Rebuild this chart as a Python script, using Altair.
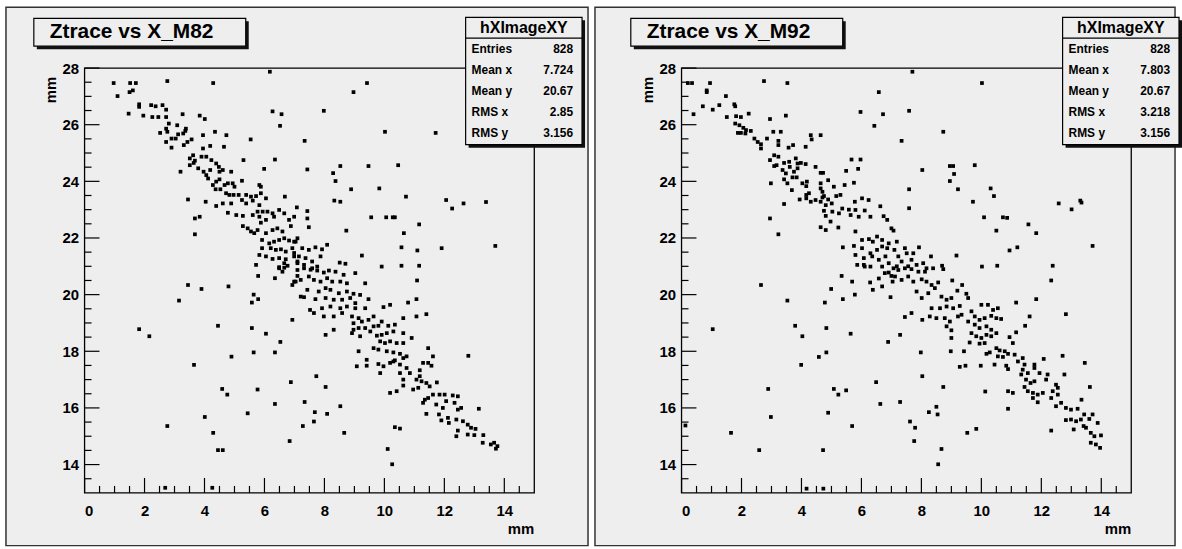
import altair as alt
import pandas as pd

# ---- Ztrace vs X, module M82 (mm) ----
m82_x = [6.18, 0.97, 1.52, 1.71, 2.76, 4.29, 1.50, 1.61, 1.10, 1.82, 1.82, 2.22, 2.37, 2.60, 2.72, 1.47, 1.96, 2.26,
         2.46, 2.72, 3.27, 3.84, 4.01, 6.27, 6.57, 6.52, 2.81, 3.09, 3.38, 2.72, 2.76, 2.52, 2.90, 3.04, 3.12, 3.29,
         3.36, 2.72, 2.90, 3.31, 3.43, 3.57, 3.95, 4.35, 4.73, 5.54, 4.19, 4.65, 3.95, 3.62, 3.51, 3.68, 3.90, 4.06,
         4.23, 4.39, 4.48, 3.51, 3.64, 3.20, 3.79, 3.97, 4.06, 4.19, 4.50, 4.61, 4.89, 5.30, 6.35, 5.99, 4.12, 4.28,
         4.39, 4.50, 4.67, 4.78, 4.94, 5.00, 5.25, 5.83, 5.88, 4.37, 4.53, 4.72, 4.83, 4.97, 5.14, 5.39, 5.55, 5.72,
         5.88, 6.05, 6.68, 3.45, 4.04, 4.39, 4.61, 4.89, 5.25, 5.39, 5.61, 5.83, 4.78, 5.06, 5.28, 5.61, 5.77, 5.94,
         6.10, 6.27, 6.49, 6.66, 6.99, 3.84, 3.68, 3.68, 5.83, 6.32, 6.05, 5.88, 6.82, 5.28, 5.44, 5.55, 5.66, 5.77,
         6.05, 6.27, 6.43, 6.60, 6.88, 5.92, 6.16, 6.32, 6.49, 6.66, 6.82, 6.99, 7.10, 6.21, 6.38, 6.55, 6.71, 6.93,
         5.92, 5.83, 6.05, 6.27, 6.49, 6.71, 6.66, 6.49, 6.77, 6.99, 7.10, 5.72,
         9.42, 8.97, 7.98, 10.02, 11.71, 7.34, 7.43, 8.53, 9.47, 10.46, 8.29, 8.37, 8.89, 9.83, 8.33, 8.53, 10.72,
         12.06, 12.26, 12.64, 13.39, 7.08, 7.43, 7.43, 7.48, 9.56, 10.06, 10.28, 10.35, 8.73, 11.16, 10.65, 10.57,
         11.10, 11.91, 13.70, 8.09, 9.25, 9.91, 10.57, 11.16, 8.51, 8.70, 7.04, 7.26, 7.48, 7.70, 7.87, 7.15, 7.37,
         7.59, 7.10, 7.32, 7.76, 7.54, 7.92, 6.99,
         3.45, 3.90, 4.80, 3.15, 5.79, 6.35, 5.64, 5.79, 5.58, 6.93, 4.45, 5.58, 6.05, 6.53, 1.82, 2.16, 5.64, 6.35,
         4.90, 3.65, 6.88, 4.59, 4.76, 5.77, 6.35, 5.44, 4.01, 2.76, 4.29, 4.45, 4.61, 6.84, 6.49, 6.66, 6.60, 7.10,
         7.04, 6.93, 7.21, 2.69, 4.26,
         7.10, 7.32, 7.59, 7.76, 7.98, 8.15, 8.37, 8.64, 9.03, 6.99, 7.21, 7.48, 7.65, 7.87, 8.09, 8.26, 8.53, 8.75,
         9.36, 11.09, 7.43, 7.81, 8.04, 8.20, 8.48, 8.75, 8.97, 9.19, 7.32, 7.70, 8.04, 8.31, 8.59, 8.86, 9.03, 9.47,
         10.79, 11.07, 7.52, 7.92, 8.20, 8.53, 8.75, 9.03, 9.36, 9.97, 10.19, 7.65, 7.98, 8.31, 8.59, 8.92, 9.14,
         9.64, 9.91, 10.63, 11.07, 11.40, 8.31, 8.04, 8.97, 9.25, 9.47, 8.97, 9.14, 9.36, 9.64, 9.80, 10.13, 10.35,
         8.92, 9.19, 9.53, 9.75, 9.91, 10.08, 10.30, 10.63, 9.86, 10.02, 10.19, 10.41, 10.63, 10.91, 9.64, 9.80,
         10.08, 10.30, 10.52, 10.74, 11.46, 11.62, 12.80, 9.14, 9.08, 9.41, 9.41, 9.80, 9.97, 10.19, 10.35, 10.52,
         10.74, 10.63, 10.30, 9.86, 10.52, 10.85, 11.18, 11.29, 11.46, 11.57, 10.63, 11.07, 11.24, 11.18, 11.40,
         11.51, 11.75, 10.63, 10.96, 11.13, 10.19, 10.41, 11.35, 11.46, 11.62, 11.84, 12.01, 12.28, 12.45, 11.29,
         11.73, 11.95, 12.06, 12.34, 12.45, 12.56, 13.15, 11.40, 11.82, 11.90, 12.12, 12.15, 12.40, 12.62, 12.78,
         12.89, 13.04, 12.45, 12.40, 12.78, 13.00, 13.30, 13.28, 13.55, 13.66, 13.77, 13.72, 7.73, 8.04, 7.34, 8.53,
         7.68, 8.09, 7.65, 7.28, 8.66, 10.35, 10.52, 10.11, 10.26]
m82_y = [27.87, 27.47, 27.47, 27.47, 27.54, 27.47, 27.15, 27.21, 27.01, 26.72, 26.63, 26.69, 26.65, 26.69, 26.53,
         26.39, 26.32, 26.27, 26.27, 26.27, 26.37, 26.32, 26.20, 26.47, 26.37, 25.96, 26.04, 25.98, 25.86, 25.86,
         25.75, 25.71, 25.51, 25.51, 25.66, 25.69, 25.78, 25.39, 25.19, 25.28, 25.39, 25.48, 25.63, 25.75, 25.63,
         25.48, 25.25, 25.22, 25.16, 24.92, 24.81, 24.73, 24.87, 24.87, 24.75, 24.63, 24.51, 24.57, 24.65, 24.34,
         24.46, 24.34, 24.22, 24.40, 24.34, 24.40, 24.34, 24.75, 24.77, 24.44, 24.10, 23.87, 23.99, 24.07, 23.87,
         23.93, 23.93, 23.81, 24.02, 23.87, 23.81, 23.72, 23.72, 23.58, 23.52, 23.52, 23.52, 23.52, 23.46, 23.48,
         23.58, 23.40, 23.46, 23.36, 23.28, 23.13, 23.22, 23.22, 23.34, 23.22, 23.32, 23.16, 22.89, 22.81, 22.78,
         22.81, 22.93, 22.93, 22.93, 22.87, 22.99, 22.87, 22.75, 22.75, 22.69, 22.13, 22.75, 22.75, 22.64, 22.54,
         22.64, 22.42, 22.34, 22.23, 22.17, 22.28, 22.17, 22.28, 22.34, 22.23, 22.42, 21.93, 21.81, 21.87, 21.93,
         21.99, 21.91, 21.87, 21.99, 21.64, 21.58, 21.60, 21.52, 21.64, 21.64, 21.40, 21.35, 21.26, 21.29, 21.25,
         21.11, 20.97, 21.02, 21.35, 21.17, 21.05,
         27.47, 27.15, 26.49, 25.75, 25.71, 25.43, 24.42, 24.54, 24.54, 24.57, 24.29, 24.01, 23.72, 23.75, 23.32,
         23.28, 23.46, 23.34, 23.04, 23.22, 23.27, 23.08, 22.95, 22.69, 22.38, 22.73, 22.73, 22.73, 22.73, 22.26,
         22.48, 22.17, 21.67, 21.56, 21.64, 21.72, 21.76, 21.38, 20.99, 21.02, 21.02, 21.13, 21.09, 21.87, 21.64,
         21.58, 21.67, 21.35, 21.35, 21.29, 21.17, 21.11, 21.05, 20.99, 20.88, 21.60, 21.47,
         20.34, 20.20, 20.29, 19.79, 20.66, 20.58, 20.00, 19.84, 19.72, 19.11, 18.90, 18.82, 18.62, 18.33, 18.78,
         18.53, 17.96, 17.96, 17.81, 17.52, 16.91, 16.67, 16.47, 16.65, 16.14, 15.81, 15.68, 15.36, 15.12, 14.51,
         14.51, 14.83, 20.93, 20.95, 20.81, 20.66, 20.46, 20.34, 19.93, 13.18, 13.18,
         20.87, 20.93, 20.93, 20.85, 20.78, 20.85, 20.81, 20.70, 20.76, 20.46, 20.52, 20.64, 20.52, 20.46, 20.58,
         20.46, 20.46, 20.40, 20.40, 20.50, 20.17, 20.11, 20.23, 20.17, 20.05, 20.11, 20.03, 19.99, 19.91, 19.84,
         19.88, 19.82, 19.82, 19.88, 19.70, 19.84, 19.72, 19.84, 19.46, 19.52, 19.58, 19.52, 19.58, 19.52, 19.52,
         19.56, 19.64, 19.35, 19.23, 19.23, 19.35, 19.23, 19.17, 19.23, 19.05, 19.17, 19.23, 19.31, 18.76, 18.58,
         18.99, 19.05, 19.11, 18.76, 18.82, 18.82, 18.88, 18.90, 18.90, 18.94, 18.64, 18.53, 18.70, 18.55, 18.58,
         18.64, 18.70, 18.64, 18.35, 18.29, 18.35, 18.29, 18.29, 18.47, 18.11, 18.06, 18.00, 17.96, 17.91, 17.82,
         18.11, 17.82, 17.84, 18.00, 17.47, 17.70, 17.49, 17.55, 17.47, 17.59, 17.68, 17.53, 17.41, 17.76, 17.64,
         17.23, 17.23, 17.23, 17.33, 17.59, 17.59, 17.49, 17.00, 17.00, 16.94, 17.12, 16.88, 16.76, 16.90, 16.79,
         16.65, 16.71, 16.53, 16.59, 16.29, 16.35, 16.47, 16.47, 16.47, 16.44, 16.41, 16.18, 16.12, 16.00, 16.24,
         16.18, 15.94, 16.00, 15.97, 15.79, 15.77, 15.56, 15.65, 15.47, 15.59, 15.53, 15.41, 15.30, 15.26, 15.20,
         15.00, 15.06, 15.04, 15.04, 14.77, 14.71, 14.77, 14.65, 14.56, 17.12, 16.74, 16.21, 16.06, 15.85, 15.79,
         15.52, 15.36, 15.12, 15.32, 15.27, 14.55, 14.01]

# ---- Ztrace vs X, module M92 (mm) ----
m92_x = [0.21, 0.35, 0.95, 0.84, 0.84, 1.48, 2.75, 3.53, 0.71, 1.04, 1.26, 1.76, 1.79, 0.40, 1.51, 1.82, 1.98, 2.24,
         2.95, 3.48, 6.58, 6.72, 5.97, 6.43, 1.79, 1.93, 2.06, 1.88, 1.98, 2.15, 2.31, 2.13, 2.43, 2.54, 2.65, 2.65,
         2.85, 3.06, 3.31, 3.23, 3.23, 3.57, 3.72, 4.14, 4.31, 4.34, 4.64, 3.09, 3.23, 2.95, 3.09, 3.17, 3.42, 3.59,
         3.81, 3.87, 3.98, 4.14, 3.37, 3.48, 3.61, 3.75, 3.87, 3.70, 3.84, 3.42, 3.53, 4.47, 4.64, 4.72, 5.67, 5.97,
         5.89, 5.49, 5.75, 2.98, 4.03, 4.18, 4.16, 3.68, 3.94, 4.16, 4.16, 4.31, 4.47, 4.64, 4.25, 4.64, 4.64, 4.70,
         4.75, 4.89, 5.08, 5.16, 5.30, 4.89, 4.70, 5.44, 3.42, 4.81, 5.01, 4.75, 4.81, 5.03, 5.25, 5.36, 5.58, 5.64,
         5.80, 5.91, 6.02, 6.24, 5.78, 6.11, 6.30, 6.63, 6.74, 6.86, 4.97, 5.23, 4.64, 4.81, 5.80, 2.95, 3.23, 6.02,
         6.25, 6.38, 6.52, 6.69, 6.91, 7.00, 5.38, 5.75, 6.02, 6.30, 6.52, 6.69, 6.86, 5.80, 6.08, 6.36, 6.58, 6.80,
         5.86, 6.08, 6.30, 6.69, 6.91,
         7.70, 10.02, 7.59, 8.73, 7.34, 8.03, 8.95, 9.06, 9.78, 9.09, 8.95, 9.22, 7.59, 9.72, 10.31, 10.42, 7.59,
         12.58, 13.01, 13.30, 13.34, 10.09, 10.72, 10.86, 11.57, 11.83, 10.50, 11.20, 10.94, 13.71, 9.17, 10.02,
         10.53, 12.38, 8.69, 8.73, 8.32, 8.06, 8.17, 7.92, 7.73, 7.07, 7.18, 7.45, 7.51, 7.23, 7.34, 7.67, 7.56,
         7.84, 7.18, 7.10,
         2.65, 3.53, 1.04, 3.79, 4.03, 4.78, 4.83, 5.64, 4.58, 4.83, 3.99, 5.34, 4.99, 5.38, 5.69, 5.78, 6.29, 6.38,
         6.58, 6.69, 6.78, 6.91, 7.00, 7.04, 6.97, 6.11, 6.89, 2.89, 5.08, 5.23, 5.49, 6.49, 6.63, 4.89, 2.98, 0.13,
         1.65, 5.69, 2.59, 4.72, 4.17, 4.73,
         7.07, 7.23, 7.45, 7.67, 7.90, 8.12, 8.39, 7.12, 7.34, 7.56, 7.73, 8.01, 8.17, 8.34, 8.56, 9.03, 9.36, 9.20,
         12.33, 7.84, 8.01, 8.23, 8.45, 8.67, 8.84, 9.00, 9.56, 9.50, 8.34, 8.62, 8.84, 9.06, 9.28, 9.34, 9.22, 9.67,
         10.00, 10.22, 10.39, 10.55, 11.16, 11.83, 7.45, 7.67, 8.03, 8.28, 8.50, 8.78, 8.95, 8.84, 9.00, 9.78, 9.94,
         10.11, 10.33, 10.50, 10.66, 11.61, 12.82, 9.56, 9.78, 9.94, 10.17, 10.33, 10.50, 9.67, 9.83, 10.00, 10.17,
         10.33, 9.00, 9.61, 9.94, 10.11, 10.94, 11.16, 11.46, 7.29, 7.98, 8.98, 9.42, 10.17, 10.28, 10.50, 10.61,
         10.78, 10.55, 10.72, 10.89, 11.11, 11.05, 10.44, 10.83, 10.89, 9.28, 9.47, 9.98, 11.22, 11.38, 11.44, 11.38,
         11.55, 11.33, 11.77, 11.77, 11.94, 12.21, 12.08, 12.71, 12.77, 13.45, 11.49, 11.64, 11.77, 11.44, 11.55,
         11.72, 11.88, 12.05, 12.16, 12.49, 12.55, 12.38, 12.33, 12.49, 12.55, 12.66, 12.82, 12.99, 13.21, 11.72,
         11.88, 13.34, 13.62, 10.89, 11.05, 10.13, 10.89, 12.82, 12.99, 13.16, 13.32, 13.43, 13.60, 13.71, 13.88,
         13.41, 13.49, 13.65, 13.77, 13.99, 13.65, 13.82, 13.96, 13.08, 12.33, 8.03, 8.73, 7.29, 8.25, 8.50, 8.54,
         7.62, 7.79, 7.76, 9.53, 9.83, 8.67, 8.56]
m92_y = [27.47, 27.47, 27.47, 27.21, 27.15, 27.01, 27.54, 27.47, 26.65, 26.53, 26.69, 26.72, 26.65, 26.37, 26.27,
         26.30, 26.27, 26.39, 26.20, 26.32, 27.15, 26.37, 26.45, 25.96, 26.04, 25.98, 25.89, 25.71, 25.71, 25.81,
         25.78, 25.69, 25.51, 25.39, 25.31, 25.16, 25.51, 25.75, 25.75, 25.43, 25.28, 25.19, 25.28, 25.22, 25.63,
         25.48, 25.63, 24.92, 24.87, 24.75, 24.54, 24.57, 24.65, 24.69, 24.81, 24.63, 24.65, 24.61, 24.40, 24.28,
         24.51, 24.34, 24.46, 24.14, 24.14, 24.07, 23.93, 24.51, 24.30, 24.30, 24.77, 24.77, 24.44, 24.37, 23.95,
         23.93, 23.93, 23.99, 23.83, 23.69, 23.36, 23.52, 23.40, 23.28, 23.34, 23.28, 23.58, 23.93, 23.75, 23.63,
         23.48, 24.04, 23.81, 23.48, 23.52, 23.36, 23.43, 23.87, 23.20, 23.16, 23.22, 22.96, 22.78, 22.93, 22.87,
         23.04, 23.00, 22.81, 22.99, 22.75, 23.40, 23.34, 23.28, 22.97, 22.75, 23.12, 22.77, 22.64, 22.58, 22.37,
         22.38, 22.28, 22.23, 22.69, 22.13, 21.93, 21.96, 21.87, 22.05, 21.93, 21.81, 22.34, 21.67, 21.72, 21.64,
         21.46, 21.58, 21.70, 21.64, 21.40, 21.29, 21.35, 21.23, 21.35, 21.05, 21.05, 20.99, 20.99, 21.11,
         27.87, 27.47, 26.49, 25.75, 25.43, 24.40, 24.54, 24.54, 24.57, 24.26, 24.01, 23.72, 23.72, 23.28, 23.75,
         23.48, 23.05, 23.22, 23.01, 23.32, 23.25, 22.73, 22.73, 22.71, 22.48, 22.17, 22.26, 21.67, 21.56, 21.72,
         21.38, 20.99, 21.02, 21.02, 21.02, 20.90, 21.35, 21.11, 20.93, 21.67, 21.46, 22.26, 21.87, 21.64, 21.46,
         21.35, 21.17, 21.23, 21.00, 21.05, 21.00, 21.58,
         20.34, 19.79, 18.78, 18.90, 18.53, 19.72, 18.82, 18.62, 17.80, 17.96, 17.52, 20.66, 20.20, 19.84, 20.46,
         20.00, 20.43, 20.17, 20.57, 20.29, 20.76, 20.78, 20.66, 20.46, 19.91, 20.99, 18.33, 16.67, 16.67, 16.47,
         16.62, 16.91, 16.14, 15.83, 15.68, 15.38, 15.12, 15.36, 14.51, 14.51, 13.15, 13.15,
         20.93, 20.87, 20.93, 20.90, 20.81, 20.81, 20.93, 20.64, 20.52, 20.64, 20.46, 20.54, 20.46, 20.34, 20.43,
         20.50, 20.34, 20.14, 20.50, 20.11, 19.88, 20.05, 20.23, 19.93, 19.82, 19.88, 19.88, 20.03, 19.52, 19.52,
         19.58, 19.52, 19.60, 19.29, 19.23, 19.41, 19.64, 19.64, 19.46, 19.52, 19.72, 19.84, 19.21, 19.35, 19.11,
         19.23, 19.17, 19.17, 19.05, 18.88, 18.74, 19.23, 19.11, 19.17, 19.25, 19.17, 19.14, 19.23, 19.31, 19.05,
         18.94, 18.82, 18.88, 18.76, 18.64, 18.64, 18.53, 18.47, 18.58, 18.53, 18.47, 18.31, 18.27, 18.29, 18.50,
         18.67, 18.90, 18.58, 17.96, 18.00, 18.00, 17.91, 17.96, 18.11, 18.03, 18.00, 17.82, 17.80, 17.91, 17.88,
         18.29, 17.53, 17.49, 17.37, 17.45, 17.49, 17.49, 17.64, 17.76, 17.53, 17.35, 17.23, 17.18, 17.53, 17.41,
         17.23, 17.18, 17.73, 17.84, 17.18, 17.59, 17.00, 16.88, 16.94, 16.74, 16.59, 16.53, 16.47, 16.53, 17.00,
         16.82, 16.71, 16.59, 16.35, 16.06, 16.47, 16.18, 16.00, 15.94, 15.97, 16.35, 16.20, 16.29, 16.74, 16.59,
         16.53, 16.58, 15.97, 15.57, 15.59, 15.53, 15.59, 15.77, 15.61, 15.77, 15.47, 15.36, 15.30, 15.12, 15.00,
         15.03, 14.77, 14.71, 14.59, 15.24, 15.20, 17.12, 16.74, 16.21, 15.85, 16.04, 15.77, 15.52, 15.30, 14.83,
         15.12, 15.26, 14.55, 14.01]

# statistics boxes
stat_names = ["Entries", "Mean x", "Mean y", "RMS x", "RMS y"]
m82_stats = ["828", "7.724", "20.67", "2.85", "3.156"]
m92_stats = ["828", "7.803", "20.67", "3.218", "3.156"]

# axis ticks (labelled majors every 2 mm, minors every 0.5 mm)
x_major = [0, 2, 4, 6, 8, 10, 12, 14]
y_major = [14, 16, 18, 20, 22, 24, 26, 28]
x_minor = [v / 2 for v in range(1, 30) if v % 4]
y_minor = [13 + v / 2 for v in range(1, 30) if v % 4 != 2]

W, H = 452, 427
FONT = "Liberation Sans"
PAD_FILL = "#eeeeee"

xscale = alt.Scale(domain=[0, 15], nice=False, zero=False)
yscale = alt.Scale(domain=[13, 28], nice=False, zero=False)
axis_style = dict(ticks=False, domain=False, grid=False, labelFont=FONT, labelFontSize=15,
                  labelFontWeight="bold", labelColor="#000000", title=None, zindex=1)
xaxis = alt.Axis(values=x_major, labelPadding=11, **axis_style)
yaxis = alt.Axis(values=y_major, labelPadding=6, **axis_style)

one = pd.DataFrame({"k": [0]})


def box(x0, x1, y0, y1, **kw):
    return alt.Chart(one).mark_rect(**kw).encode(
        x=alt.value(x0), x2=alt.value(x1), y=alt.value(y0), y2=alt.value(y1))


def hline(x0, x1, y, **kw):
    return alt.Chart(one).mark_rule(**kw).encode(x=alt.value(x0), x2=alt.value(x1), y=alt.value(y))


def text(t, x, y, **kw):
    kw.setdefault("fontWeight", "bold")
    return alt.Chart(one).mark_text(text=t, font=FONT, color="#000000", **kw).encode(
        x=alt.value(x), y=alt.value(y))


def xticks(vals, length):
    return alt.Chart(pd.DataFrame({"t": vals})).mark_rule(color="#000000", strokeWidth=1.2).encode(
        x=alt.X("t:Q", scale=xscale, axis=xaxis), y=alt.value(H), y2=alt.value(H - length))


def yticks(vals, length):
    return alt.Chart(pd.DataFrame({"t": vals})).mark_rule(color="#000000", strokeWidth=1.2).encode(
        y=alt.Y("t:Q", scale=yscale, axis=yaxis), x=alt.value(0), x2=alt.value(length))


def panel(xs, ys, title, stats, pad_l, pad_r):
    pts = pd.DataFrame({"x": xs, "y": ys})
    layers = [
        box(pad_l, pad_r, -61, 480, fill=PAD_FILL, stroke="#333333", strokeWidth=1.5),
        box(0, W, 0, H, filled=False, stroke="#000000", strokeWidth=1.3),
        xticks(x_major, 15), xticks(x_minor, 7),
        yticks(y_major, 15), yticks(y_minor, 7),
        alt.Chart(pts).mark_square(size=14, color="#000000", opacity=1).encode(
            x=alt.X("x:Q", scale=xscale, axis=xaxis),
            y=alt.Y("y:Q", scale=yscale, axis=yaxis)),
        # histogram title pave
        box(-48, 165, -47, -19, fill="#111111"),
        box(-51, 162, -50, -22, fill=PAD_FILL, stroke="#000000", strokeWidth=1.2),
        text(title, -35, -36, align="left", baseline="middle", fontSize=21),
        # statistics pave
        box(386, 503, -48, 80, fill="#111111"),
        box(383, 500, -51, 77, fill=PAD_FILL, stroke="#000000", strokeWidth=1.2),
        hline(383, 500, -30, color="#000000", strokeWidth=1.2),
        text("hXImageXY", 441.5, -40, align="center", baseline="middle", fontSize=16),
        # axis titles
        text("mm", -34, 22, angle=270, align="center", baseline="middle", fontSize=15),
        text("mm", 452, 463, align="right", baseline="middle", fontSize=15),
    ]
    for i, (name, val) in enumerate(zip(stat_names, stats)):
        ry = -19 + 21 * i
        layers.append(text(name, 389, ry, align="left", baseline="middle", fontSize=12))
        layers.append(text(val, 491, ry, align="right", baseline="middle", fontSize=12))
    return alt.layer(*layers).properties(width=W, height=H)


left = panel(m82_x, m82_y, "Ztrace vs X_M82", m82_stats, -79, 506)
right = panel(m92_x, m92_y, "Ztrace vs X_M92", m92_stats, -87, 496)

chart = alt.hconcat(left, right, spacing=148, bounds="flush").properties(
    padding={"left": 5, "top": 5, "right": 0, "bottom": 0}, background="white"
).configure_view(strokeWidth=0)

chart.save("out.html", embed_options={"renderer": "svg", "actions": False})
